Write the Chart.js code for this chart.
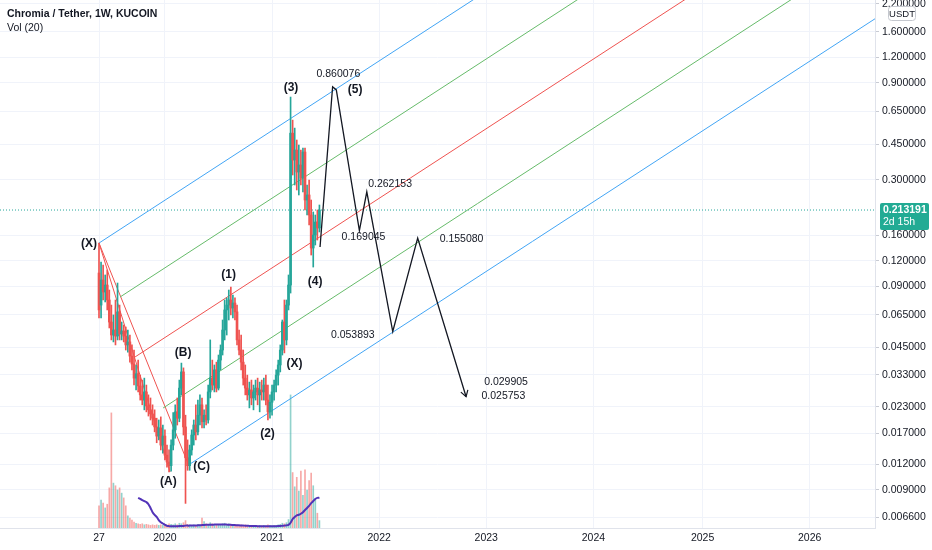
<!DOCTYPE html>
<html><head><meta charset="utf-8">
<script src="https://cdn.jsdelivr.net/npm/chart.js@4.4.0/dist/chart.umd.min.js"></script>
<style>html,body{margin:0;padding:0;background:#fff;overflow:hidden}#wrap{width:932px;height:550px;position:relative}</style>
</head><body><div id="wrap"><canvas id="c" width="932" height="550"></canvas></div>
<script>
// ---- weekly candles (week index from first KuCoin week) ----
const open = [
.1045,.0727,.0965,.0843,.0912,.0770,.0600,.0518,.0548,.0512,
.0673,.0524,.0542,.0512,.0463,.0479,.0408,.0373,.0318,.0334,
.0291,.0263,.0248,.0272,.0232,.0222,.0212,.0202,.0183,.0165,
.0181,.0149,.0165,.0133,.0123,.0118,.0149,.0177,.0217,.0202,
.0284,.0341,.0183,.0129,.0118,.0141,.0167,.0187,.0173,.0209,
.0235,.0194,.0209,.0198,.0272,.0318,.0294,.0349,.0284,.0390,
.0437,.0548,.0688,.0727,.0770,.0703,.0744,.0673,.0490,.0437,
.0381,.0318,.0284,.0263,.0278,.0254,.0272,.0284,.0263,.0278,
.0272,.0294,.0248,.0217,.0242,.0272,.0294,.0329,.0369,.0437,
.0600,.0490,.0727,.0912,.509,.3756,.4205,.3279,.3549,.3064,
.411,.2388,.2528,.2015,.1387,.1607,.1862,.1740];
const high = [
.1467,.1184,.1144,.1022,.1081,.0862,.0727,.0650,.0770,.0933,
.0727,.0600,.0580,.0567,.0548,.0518,.0463,.0437,.0369,.0390,
.0329,.0311,.0318,.0294,.0263,.0254,.0235,.0222,.0202,.0198,
.0205,.0187,.0177,.0149,.0141,.0158,.0215,.0235,.0254,.0311,
.0377,.0357,.0209,.0158,.0149,.0177,.0198,.0235,.0248,.0263,
.0254,.0222,.0235,.0294,.0490,.0390,.0369,.0381,.0413,.0463,
.0614,.0770,.0788,.0862,.0892,.0815,.0788,.0727,.0548,.0518,
.0437,.0369,.0329,.0304,.0311,.0294,.0311,.0318,.0304,.0311,
.0318,.0329,.0294,.0263,.0294,.0311,.0349,.0390,.0463,.0614,
.0770,.0770,.1022,.766,.590,.539,.471,.445,.4205,.430,
.430,.2831,.2995,.2388,.2085,.2015,.2133,.2257];
const low = [
.0628,.0628,.0770,.0753,.0688,.0561,.0490,.0479,.0463,.0490,
.0490,.0490,.0479,.0437,.0427,.0381,.0349,.0294,.0278,.0272,
.0248,.0235,.0222,.0217,.0207,.0198,.0187,.0173,.0153,.0158,
.0141,.0136,.0126,.0116,.0110,.0111,.0141,.0161,.0187,.0194,
.0263,.0167,.0077,.0112,.0112,.0133,.0149,.0158,.0167,.0187,
.0181,.0181,.0187,.0191,.0254,.0278,.0272,.0272,.0278,.0349,
.0413,.0490,.0518,.0614,.0650,.0628,.0614,.0463,.0413,.0349,
.0294,.0263,.0248,.0227,.0235,.0222,.0248,.0235,.0217,.0248,
.0248,.0235,.0198,.0202,.0209,.0248,.0272,.0294,.0341,.0413,
.0423,.0463,.0688,.0833,.317,.2831,.2675,.2528,.2831,.2615,
.2133,.2015,.1800,.1281,.1118,.1435,.1518,.1663];
const close = [
.0688,.0965,.0843,.0912,.0770,.0600,.0518,.0548,.0512,.0673,
.0524,.0542,.0512,.0463,.0479,.0408,.0373,.0318,.0334,.0291,
.0263,.0248,.0272,.0232,.0222,.0212,.0202,.0183,.0165,.0181,
.0149,.0165,.0133,.0123,.0118,.0149,.0177,.0217,.0202,.0284,
.0341,.0183,.0129,.0118,.0141,.0167,.0187,.0173,.0209,.0235,
.0194,.0209,.0198,.0272,.0318,.0294,.0349,.0284,.0390,.0437,
.0548,.0688,.0727,.0770,.0703,.0744,.0673,.0490,.0437,.0381,
.0318,.0284,.0263,.0278,.0254,.0272,.0284,.0263,.0278,.0272,
.0294,.0248,.0217,.0242,.0272,.0294,.0329,.0369,.0437,.0600,
.0490,.0727,.0912,.509,.3756,.4205,.3279,.3549,.3064,.411,
.2388,.2528,.2015,.1387,.1607,.1862,.1740,.213191];
// volume (millions, estimated) and its 20-period average
const volume = [
4.2,5.3,4.7,3.8,4.5,7.6,21.8,8.5,8.0,7.2,
7.6,6.6,5.7,4.2,2.3,1.9,1.5,1.1,0.9,0.8,
0.7,0.8,0.6,0.7,0.6,0.5,0.6,0.5,0.6,0.5,
0.6,0.5,0.7,0.6,0.8,0.7,0.6,0.8,0.6,0.9,
0.8,1.0,1.4,0.7,0.6,0.5,0.6,0.5,0.7,0.6,
1.9,1.2,0.8,0.7,1.0,0.8,0.6,0.7,0.6,0.7,
0.8,0.9,0.7,0.8,0.7,0.6,0.7,0.6,0.5,0.6,
0.5,0.6,0.5,0.4,0.5,0.4,0.5,0.4,0.5,0.4,
0.5,0.4,0.6,0.5,0.4,0.5,0.5,0.6,0.7,0.9,
0.8,1.0,1.6,25.2,10.5,7.8,9.6,7.0,10.8,6.2,
11.0,7.2,9.0,10.4,8.0,5.5,2.8,1.4];
const volMA = [
null,null,null,null,null,null,null,null,null,null,
null,null,null,null,null,null,null,null,null,5.7,
5.5,5.3,5.1,4.9,4.5,3.8,3.0,2.5,2.1,1.5,
1.1,0.85,0.6,0.4,0.35,0.33,0.33,0.34,0.35,0.36,
0.38,0.40,0.45,0.45,0.45,0.46,0.47,0.48,0.50,0.52,
0.55,0.58,0.6,0.6,0.62,0.63,0.64,0.65,0.66,0.66,
0.66,0.65,0.64,0.63,0.6,0.58,0.55,0.52,0.5,0.48,
0.46,0.44,0.42,0.4,0.38,0.37,0.36,0.35,0.35,0.34,
0.34,0.34,0.34,0.34,0.34,0.35,0.35,0.36,0.38,0.42,
0.45,0.5,0.6,1.0,1.7,2.1,2.4,2.5,2.7,3.0,
3.4,3.8,4.2,4.7,5.1,5.5,5.7,5.7];
// axis ticks
const xTickVals = [0,32,84,136,188,240,293,345];
const xTickLabels = ['27','2020','2021','2022','2023','2024','2025','2026'];
const yTickVals = [2.2,1.6,1.2,0.9,0.65,0.45,0.3,0.16,0.12,0.09,0.065,0.045,0.033,0.023,0.017,0.012,0.009,0.0066];
const lastPrice = 0.213191;
// pitchfork (week, price)
const pfUpperW=[0,190], pfUpperP=[0.1467,2.615];
const pfUpHalfW=[10.2,239.5], pfUpHalfP=[0.0796,2.574];
const pfMedW=[17.5,291.6], pfMedP=[0.0404,2.574];
const pfLoHalfW=[31.1,343.2], pfLoHalfP=[0.02266,2.574];
const pfLowerW=[44.2,376.7], pfLowerP=[0.01203,1.858];
const pfXAW=[0,34.5], pfXAP=[0.1467,0.01099];
const pfXCW=[0,43.7], pfXCP=[0.1467,0.01176];
// projected path
const pathW=[107.3,113.4,115.2,126.4,130.0,142.6,154.7,178.2];
const pathP=[0.1403,0.860076,0.83,0.169045,0.262153,0.053893,0.155080,0.025753];
// text notes
const waveLabels=['(X)','(A)','(B)','(C)','(1)','(2)','(X)','(3)','(4)','(5)'];
const waveLabelW=[-4.85,33.7,40.8,49.8,62.9,81.8,94.9,93.2,104.9,124.3];
const waveLabelP=[0.1451,0.00987,0.0422,0.01163,0.1022,0.0170,0.0373,0.849,0.0944,0.829];
const priceNotes=['0.860076','0.262153','0.169045','0.155080','0.053893','0.029905','0.025753'];
const noteW=[116.2,141.3,128.4,176.0,123.2,197.6,196.3];
const noteP=[0.9888,0.2862,0.1562,0.1536,0.0518,0.0303,0.0259];

const GREEN='#26a69a', RED='#ef5350';
const weekIdx = close.map((_,i)=>i);
const isUp = close.map((c,i)=>c>=open[i]);
const cCol = isUp.map(u=>u?GREEN:RED);
const vCol = isUp.map(u=>u?'rgba(38,166,154,0.5)':'rgba(239,83,80,0.5)');
const pts=(ws,ps)=>ws.map((w,i)=>({x:w,y:ps[i]}));
const line=(ws,ps,color,width,order,extra)=>Object.assign({type:'line',data:pts(ws,ps),borderColor:color,borderWidth:width,pointRadius:0,fill:false,tension:0,order:order,yAxisID:'y'},extra||{});

const datasets=[
  line(pathW,pathP,'#131722',1.3,0),
  {type:'bar',data:weekIdx.map(i=>({x:i,y:[Math.min(open[i],close[i]),Math.max(open[i],close[i])]})),backgroundColor:cCol,barThickness:2,grouped:false,order:1,yAxisID:'y',minBarLength:1},
  {type:'bar',data:weekIdx.map(i=>({x:i,y:[low[i],high[i]]})),backgroundColor:cCol,barThickness:1,grouped:false,order:2,yAxisID:'y'},
  line(pfUpperW,pfUpperP,'#42a5f5',1,3),
  line(pfUpHalfW,pfUpHalfP,'#66bb6a',1,3),
  line(pfMedW,pfMedP,'#ef5350',1,3),
  line(pfLoHalfW,pfLoHalfP,'#66bb6a',1,3),
  line(pfLowerW,pfLowerP,'#42a5f5',1,3),
  line(pfXAW,pfXAP,'#ef5350',1,3),
  line(pfXCW,pfXCP,'#ef5350',1,3),
  {type:'line',data:weekIdx.map(i=>({x:i,y:volMA[i]})),borderColor:'#5233b8',borderWidth:2,pointRadius:0,fill:false,tension:0.3,order:4,yAxisID:'yv',spanGaps:false},
  {type:'bar',data:weekIdx.map(i=>({x:i,y:volume[i]})),backgroundColor:vCol,barThickness:1,grouped:false,order:5,yAxisID:'yv'},
  line([-48.06,376.7],[lastPrice,lastPrice],'#26a69a',1,6,{borderDash:[1,2]})
];

const annot={id:'annot',afterDatasetsDraw(ch){
  const {ctx,scales:{x,y}}=ch; ctx.save();
  ctx.fillStyle='#131722'; ctx.textAlign='center'; ctx.textBaseline='middle';
  ctx.font='bold 12px "Liberation Sans", Arial';
  waveLabels.forEach((t,i)=>ctx.fillText(t,x.getPixelForValue(waveLabelW[i]),y.getPixelForValue(waveLabelP[i])));
  ctx.font='10.5px "Liberation Sans", Arial';
  priceNotes.forEach((t,i)=>ctx.fillText(t,x.getPixelForValue(noteW[i]),y.getPixelForValue(noteP[i])));
  const n=pathW.length;
  const x1=x.getPixelForValue(pathW[n-2]),y1=y.getPixelForValue(pathP[n-2]);
  const x2=x.getPixelForValue(pathW[n-1]),y2=y.getPixelForValue(pathP[n-1]);
  const a=Math.atan2(y2-y1,x2-x1);
  ctx.strokeStyle='#131722'; ctx.lineWidth=1.2; ctx.beginPath();
  ctx.moveTo(x2-7*Math.cos(a-0.55),y2-7*Math.sin(a-0.55)); ctx.lineTo(x2,y2);
  ctx.lineTo(x2-7*Math.cos(a+0.55),y2-7*Math.sin(a+0.55)); ctx.stroke();
  ctx.restore();
}};
const overlay={id:'overlay',afterDraw(ch){
  const {ctx,scales:{y}}=ch; ctx.save();
  ctx.textAlign='left'; ctx.textBaseline='middle'; ctx.fillStyle='#131722';
  ctx.font='bold 10.5px "Liberation Sans", Arial'; ctx.fillText('Chromia / Tether, 1W, KUCOIN',7,14.5);
  ctx.font='10.5px "Liberation Sans", Arial'; ctx.fillText('Vol (20)',7,28);
  // USDT badge
  ctx.fillStyle='#fff'; ctx.strokeStyle='#c5c8cf'; ctx.lineWidth=1;
  ctx.beginPath(); ctx.roundRect(888.5,6.5,27,14,3); ctx.fill(); ctx.stroke();
  ctx.fillStyle='#131722'; ctx.font='9.5px "Liberation Sans", Arial'; ctx.textAlign='center'; ctx.fillText('USDT',902,14);
  // last price tag
  const py=y.getPixelForValue(lastPrice);
  ctx.fillStyle='#22ab94'; ctx.beginPath(); ctx.roundRect(880,py-7,49,27,2); ctx.fill();
  ctx.fillStyle='#fff'; ctx.textAlign='left';
  ctx.font='bold 10.5px "Liberation Sans", Arial'; ctx.fillText(lastPrice.toFixed(6),883,py+0.5);
  ctx.font='10.5px "Liberation Sans", Arial'; ctx.fillText('2d 15h',883,py+12.5);
  ctx.restore();
}};

new Chart(document.getElementById('c'),{
  type:'bar',
  data:{datasets},
  options:{
    responsive:false,animation:false,devicePixelRatio:1,
    layout:{padding:0},
    plugins:{legend:{display:false},tooltip:{enabled:false},title:{display:false}},
    scales:{
      x:{type:'linear',min:-48.06,max:376.7,offset:false,
        afterBuildTicks:s=>{s.ticks=xTickVals.map(v=>({value:v}));},
        afterFit:s=>{s.height=22;s.paddingLeft=0;s.paddingRight=0;},
        ticks:{autoSkip:false,maxRotation:0,padding:4,color:'#131722',font:{family:'"Liberation Sans", Arial',size:10.5},callback:(v,i)=>xTickLabels[i]},
        grid:{color:'#f0f3fa',drawTicks:false,offset:false},
        border:{color:'#e0e3eb'}},
      y:{type:'logarithmic',position:'right',min:0.005828,max:2.298,
        afterBuildTicks:s=>{s.ticks=yTickVals.map(v=>({value:v}));},
        afterFit:s=>{s.width=57;s.paddingTop=0;s.paddingBottom=0;},
        ticks:{padding:3,color:'#131722',font:{family:'"Liberation Sans", Arial',size:10.5},callback:v=>Number(v).toFixed(6)},
        grid:{color:'#f0f3fa',tickLength:4,tickColor:'#c8cbd3'},
        border:{color:'#e0e3eb'}},
      yv:{type:'linear',min:0,max:100,display:false}
    }
  },
  plugins:[annot,overlay]
});
</script></body></html>
